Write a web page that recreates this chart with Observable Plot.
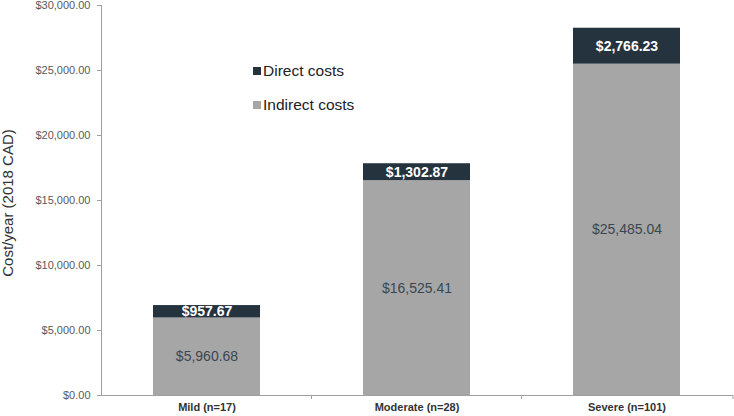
<!DOCTYPE html>
<html><head><meta charset="utf-8">
<script src="https://cdn.jsdelivr.net/npm/d3@7"></script>
<script src="https://cdn.jsdelivr.net/npm/@observablehq/plot@0.6"></script>
<style>
body{margin:0;background:#fff;}
#wrap{position:relative;width:734px;height:416px;font-family:"Liberation Sans",Arial,sans-serif;}
.legend{position:absolute;left:253px;font-size:15.5px;color:#222;display:flex;align-items:center;line-height:16px;}
.sw{width:8px;height:8px;margin-right:2px;display:inline-block;}
.ylab{position:absolute;left:7px;top:203px;transform:translate(-50%,-50%) rotate(-90deg);font-size:15px;color:#333;white-space:nowrap;}
</style></head><body><div id="wrap"></div>
<script>
const categories = ["Mild (n=17)", "Moderate (n=28)", "Severe (n=101)"];
const indirectCosts = [5960.68, 16525.41, 25485.04];
const directCosts = [957.67, 1302.87, 2766.23];
const seriesNames = ["Indirect costs", "Direct costs"];
const yTicks = [0, 5000, 10000, 15000, 20000, 25000, 30000];
const seriesColors = {"Direct costs": "#25333f", "Indirect costs": "#a6a6a6"};
const yLabel = "Cost/year (2018 CAD)";

const rows = [];
categories.forEach((c, i) => {
  rows.push({cat: c, type: "Indirect costs", value: indirectCosts[i]});
  rows.push({cat: c, type: "Direct costs", value: directCosts[i]});
});
const fmt = d3.format("$,.2f");

const plot = Plot.plot({
  width: 734, height: 416,
  marginLeft: 101, marginRight: 1, marginTop: 5, marginBottom: 21,
  style: {fontFamily: '"Liberation Sans", Arial, sans-serif', background: "#fff"},
  x: {domain: categories, paddingInner: 0.49, paddingOuter: 0.245, axis: null},
  y: {domain: [0, 30000], axis: null},
  color: {type: "identity"},
  marks: [
    Plot.barY(rows, Plot.stackY({x: "cat", y: "value", z: "type", order: seriesNames, fill: d => seriesColors[d.type]})),
    Plot.text(rows, Plot.stackY({x: "cat", y: "value", z: "type", order: seriesNames,
      text: d => d.type === "Indirect costs" ? fmt(d.value) : null, fill: "#3a4650", fontSize: 14})),
    Plot.text(rows, Plot.stackY({x: "cat", y: "value", z: "type", order: seriesNames,
      text: d => d.type === "Direct costs" ? fmt(d.value) : null, fill: "#ffffff", fontSize: 14, fontWeight: "bold"})),
    Plot.ruleY([0], {stroke: "#a0a0a0"}),
    Plot.frame({anchor: "left", stroke: "#a0a0a0"}),
    Plot.axisY({ticks: yTicks, tickFormat: fmt, tickSize: 4, tickPadding: 7, stroke: "#a0a0a0", color: "#595959", fill: "#595959", fontSize: 11, label: null}),
    Plot.axisX({tickSize: 0, tickPadding: 8, fontSize: 11, fontWeight: "bold", fill: "#333", label: null})
  ]
});

const wrap = document.getElementById("wrap");
wrap.appendChild(plot);

// boundary ticks on the x axis, computed from the band scale
const sx = plot.scale("x");
const sy = plot.scale("y");
const y0 = sy.apply(0);
const bounds = [];
for (let i = 0; i < categories.length - 1; i++) {
  bounds.push((sx.apply(categories[i]) + sx.bandwidth + sx.apply(categories[i + 1])) / 2);
}
bounds.push(sx.range[1]);
d3.select(plot).selectAll("line.btick").data(bounds).join("line")
  .attr("class", "btick").attr("x1", d => d).attr("x2", d => d)
  .attr("y1", y0).attr("y2", y0 + 4).attr("stroke", "#a0a0a0");

// y label
const yl = document.createElement("div");
yl.className = "ylab"; yl.textContent = yLabel;
wrap.appendChild(yl);

// legend
[["Direct costs", 63], ["Indirect costs", 97]].forEach(([name, top]) => {
  const d = document.createElement("div");
  d.className = "legend"; d.style.top = top + "px";
  d.innerHTML = `<span class="sw" style="background:${seriesColors[name]}"></span><span>${name}</span>`;
  wrap.appendChild(d);
});
</script></body></html>
